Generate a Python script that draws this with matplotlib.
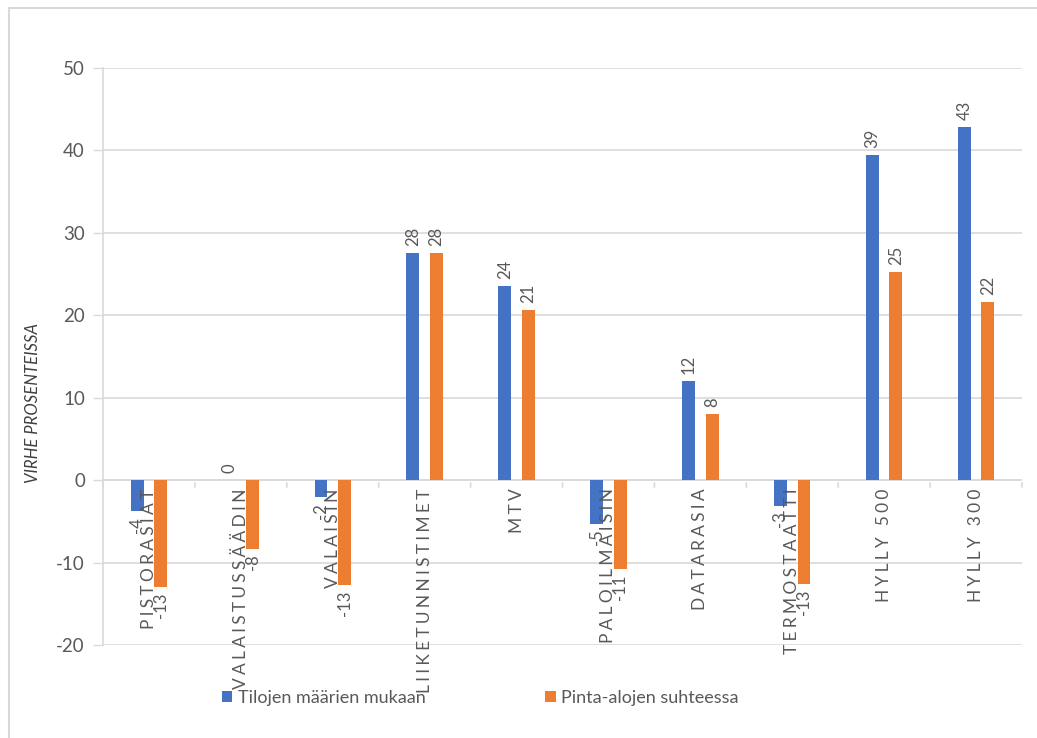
import matplotlib
matplotlib.use("Agg")
import matplotlib.pyplot as plt
from matplotlib.patches import Rectangle
import numpy as np

# Data: error percentages per device category
categories = ["PISTORASIAT", "VALAISTUSSÄÄDIN", "VALAISIN", "LIIKETUNNISTIMET", "MTV",
              "PALOILMAISIN", "DATARASIA", "TERMOSTAATTI", "HYLLY 500", "HYLLY 300"]
by_count = [-3.8, 0.0, -2.1, 27.6, 23.5, -5.3, 12.0, -3.1, 39.4, 42.9]
by_area = [-13.0, -8.3, -12.7, 27.6, 20.6, -10.8, 8.0, -12.6, 25.2, 21.6]
series_names = ["Tilojen määrien mukaan", "Pinta-alojen suhteessa"]
y_ticks = [-20, -10, 0, 10, 20, 30, 40, 50]
y_label = "VIRHE PROSENTEISSA"

BLUE = "#4472C4"
ORANGE = "#ED7D31"
TEXT = "#595959"
GRID = "#D9D9D9"
FAM = ["Lato", "DejaVu Sans"]

plt.rcParams["font.family"] = FAM

W, H = 1037, 738
fig = plt.figure(figsize=(W / 100, H / 100), dpi=100)

# chart frame
fig.patches.append(Rectangle((9 / W, -0.1), 1.2, 1 - 8 / H + 0.1, transform=fig.transFigure,
                             fill=False, edgecolor=GRID, linewidth=1.5))

ax = fig.add_axes([103 / W, 1 - 645 / H, (1022 - 103) / W, (645 - 68) / H])
ax.set_xlim(-0.5, len(categories) - 0.5)
ax.set_ylim(-20, 50)

x = np.arange(len(categories))
bw = 0.14
off = 0.128
ax.bar(x - off, by_count, width=bw, color=BLUE, zorder=3, label=series_names[0])
ax.bar(x + off, by_area, width=bw, color=ORANGE, zorder=3, label=series_names[1])

# grid and axes styling
ax.set_yticks(y_ticks)
ax.set_yticklabels([str(t) for t in y_ticks], color=TEXT, fontsize=13.5)
ax.tick_params(axis="y", length=7, width=1, color=GRID, pad=6)
ax.set_xticks([])
ax.grid(axis="y", color=GRID, linewidth=1.2, zorder=0)
for s in ["top", "right", "bottom"]:
    ax.spines[s].set_visible(False)
ax.spines["left"].set_color(GRID)
ax.spines["left"].set_linewidth(1.2)
ax.axhline(0, color=GRID, linewidth=1.2, zorder=1)

# tick marks on the zero line at category boundaries
for b in np.arange(-0.5, len(categories), 1.0):
    ax.annotate("", xy=(b, 0), xytext=(0, -7), textcoords="offset points",
                xycoords="data", arrowprops=dict(arrowstyle="-", color=GRID, lw=1.2))

ax.set_ylabel(y_label, fontstyle="italic", color="#404040", fontsize=12)
ax.yaxis.set_label_coords(-0.068, 0.42, transform=ax.transAxes)


def spaced(s):
    return "\u2009\u200a".join(s)


# category labels below the zero line
for xi, name in zip(x, categories):
    ax.annotate(spaced(name), xy=(xi, 0), xytext=(0, -6), textcoords="offset points",
                rotation=90, ha="center", va="top", color=TEXT, fontsize=12.5, zorder=5)

# value labels at the bar ends
for vals, dx in ((by_count, -off), (by_area, off)):
    for xi, v in zip(x, vals):
        lab = f"{v:.0f}"
        if lab == "-0":
            lab = "0"
        if v >= 0:
            ax.annotate(lab, xy=(xi + dx, v), xytext=(0, 5), textcoords="offset points",
                        rotation=90, ha="center", va="bottom", color=TEXT, fontsize=12, zorder=5)
        else:
            ax.annotate(lab, xy=(xi + dx, v), xytext=(0, -4), textcoords="offset points",
                        rotation=90, ha="center", va="top", color=TEXT, fontsize=12, zorder=5)

# legend
leg = fig.legend(loc="center", bbox_to_anchor=(480 / W, 1 - 698 / H), ncol=2, frameon=False,
                 fontsize=13, handlelength=0.6, handleheight=0.6, handletextpad=0.3,
                 columnspacing=6.6, labelcolor=TEXT)

fig.savefig("out.png", dpi=100)
